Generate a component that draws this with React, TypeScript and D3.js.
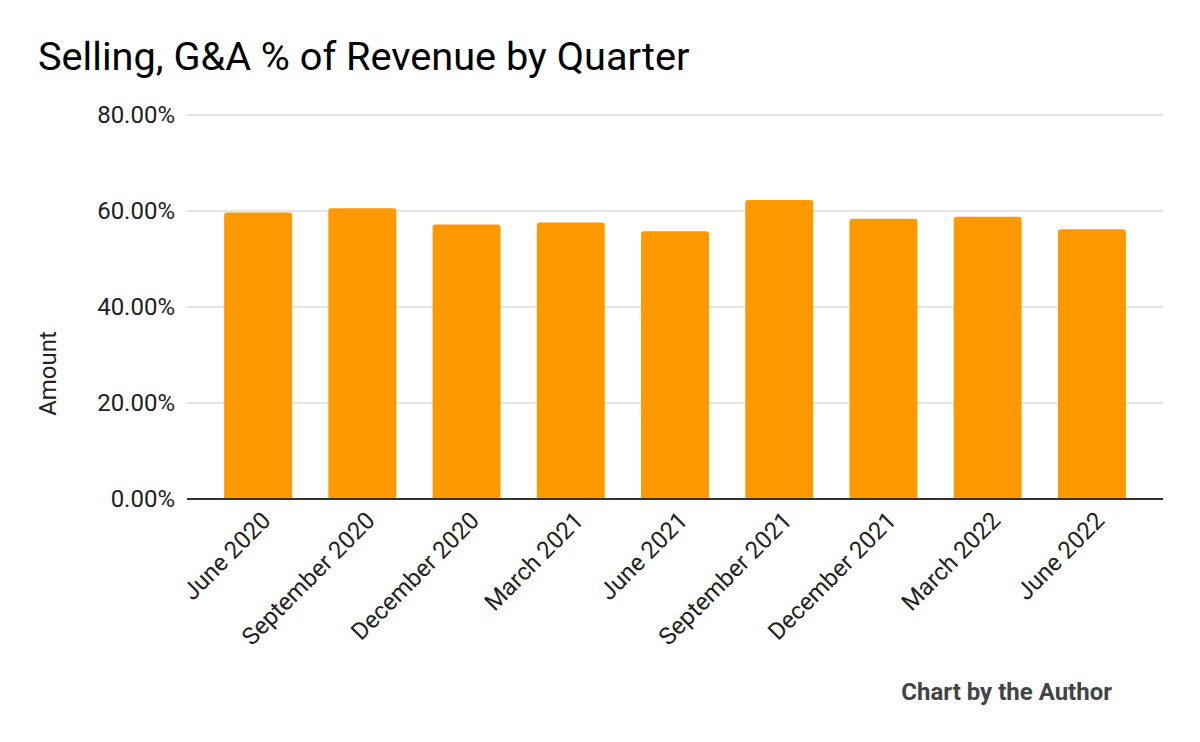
import React from "react";
import * as d3 from "d3";

const categories = [
  "June 2020",
  "September 2020",
  "December 2020",
  "March 2021",
  "June 2021",
  "September 2021",
  "December 2021",
  "March 2022",
  "June 2022",
];
const values = [59.7, 60.55, 57.2, 57.6, 55.8, 62.3, 58.4, 58.8, 56.2];
const yTicks = [0, 20, 40, 60, 80];

const W = 1200;
const H = 742;
const FONT = "Roboto, 'Noto Sans', sans-serif";

export default function App() {
  const x = d3.scaleBand<string>().domain(categories).range([206, 1144]).paddingInner(0.348).paddingOuter(0.174);
  const y = d3.scaleLinear().domain([0, 80]).range([499, 115]);
  const gx0 = 187;
  const gx1 = 1163;
  const r = 3;

  const barPath = (cx: number, w: number, top: number, bottom: number) => {
    const x0 = cx;
    const x1 = cx + w;
    return `M${x0},${bottom}V${top + r}Q${x0},${top} ${x0 + r},${top}H${x1 - r}Q${x1},${top} ${x1},${top + r}V${bottom}Z`;
  };

  return (
    <svg width={W} height={H} style={{ position: "absolute", left: 0, top: 0, background: "#fff" }}>
      <rect width={W} height={H} fill="#fff" />
      <text x={38} y={70} fontFamily={FONT} fontSize={39.7} fill="#000">
        Selling, G&amp;A % of Revenue by Quarter
      </text>
      {yTicks.map((t) => (
        <g key={t}>
          {t !== 0 && <line x1={gx0} x2={gx1} y1={y(t)} y2={y(t)} stroke="#cccccc" strokeWidth={1} />}
          <text x={175} y={y(t)} dy="0.35em" textAnchor="end" fontFamily={FONT} fontSize={24} fill="#222">
            {t.toFixed(2) + "%"}
          </text>
        </g>
      ))}
      {categories.map((c, i) => (
        <path key={c} d={barPath(x(c)!, x.bandwidth(), y(values[i]), y(0))} fill="#ff9900" />
      ))}
      <line x1={gx0} x2={gx1} y1={y(0)} y2={y(0)} stroke="#333" strokeWidth={2} />
      {categories.map((c) => {
        const cx = x(c)! + x.bandwidth() / 2 + 14;
        const cy = 522;
        return (
          <text
            key={c}
            transform={`translate(${cx},${cy}) rotate(-45)`}
            textAnchor="end"
            fontFamily={FONT}
            fontSize={24}
            fill="#222"
          >
            {c}
          </text>
        );
      })}
      <text
        transform={`translate(56,373.5) rotate(-90)`}
        textAnchor="middle"
        fontFamily={FONT}
        fontSize={24}
        fill="#222"
      >
        Amount
      </text>
      <text x={1112} y={700} textAnchor="end" fontFamily={FONT} fontSize={24} fontWeight="bold" fill="#444">
        Chart by the Author
      </text>
    </svg>
  );
}
